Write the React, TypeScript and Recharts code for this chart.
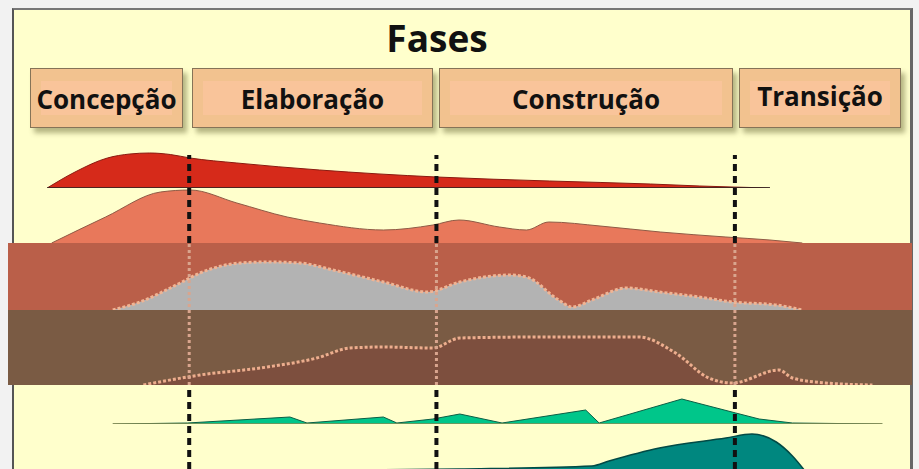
import React from 'react';
import { AreaChart, Area, XAxis, YAxis, LineChart, Line, ReferenceLine } from 'recharts';

// --- DATA ---
// x = % of project timeline, y = relative effort of each discipline
const PHASES = ['Concepção', 'Elaboração', 'Construção', 'Transição'];
const PHASE_ENDS = [19.6, 47.1, 80.3];

const redX = [3.8, 6.9, 10.5, 13.0, 15.2, 17.5, 19.7, 24.9, 34.1, 47.1, 59.7, 70.9, 76.4, 84.2];
const redY = [0, 3.2, 6.0, 6.8, 7, 6.7, 6, 5, 3.6, 2.2, 1.4, 0.8, 0.4, 0];

const salmonX = [4.3, 10.3, 16.4, 19.7, 24.9, 30.5, 34.1, 41.2, 46.7, 49.6, 54.1, 57.1, 59.6, 65.3, 72.0, 79.3, 84.2, 87.8];
const salmonY = [0, 5.2, 10.2, 10.6, 8, 5.2, 4, 2.6, 3.6, 4.6, 3.2, 2.6, 4.2, 3.4, 2.2, 1.2, 0.6, 0];

const grayX = [11.1, 14.1, 18.6, 20.8, 25.3, 28.3, 31.9, 35.6, 41.2, 46.1, 49.7, 55.2, 57.1, 60.7, 62.2, 64.4, 68.2, 71.9, 76.3, 80.0, 84.9, 87.8];
const grayY = [0, 1.6, 5.4, 7.4, 9.4, 9.6, 9.4, 8, 5.6, 3.6, 5.6, 7, 6.6, 2, 0.6, 2, 4.4, 3.6, 2.6, 1.6, 1, 0];

const brownX = [14.5, 20.8, 28.3, 33.8, 37.5, 41.2, 46.7, 49.7, 58.6, 68.2, 69.6, 73.7, 77.4, 80.0, 85.2, 86.7, 90.4, 95.6];
const brownY = [0, 2, 3.6, 5.4, 7.4, 7.6, 7.4, 9.4, 9.6, 9.6, 9.6, 6.4, 1.4, 0.4, 3, 1.4, 0.4, 0];

const greenX = [11.1, 19.4, 30.8, 32.7, 41.2, 42.7, 46.7, 49.7, 54.4, 63.7, 65.2, 74.4, 80.4, 83.0, 86.7, 96.7];
const greenY = [0, 0.2, 1.4, 0.2, 1.4, 0.2, 1.0, 2, 0.2, 2.8, 0.2, 5, 2.2, 1, 0.2, 0];

const tealX = [27.5, 49.6, 64.4, 66.3, 71.9, 79.3, 82.2, 84.9, 86.7, 88.1];
const tealY = [0, 0.4, 1, 2, 4.6, 6.6, 7.4, 5.8, 3, 0];

const zip = (xs: number[], ys: number[]) => xs.map((x, i) => ({ x, y: ys[i] }));

// --- LAYOUT ---
const CHART_LEFT = 13;
const CHART_W = 899;
const ROW_H = 55;
const BOXES = [
  { left: 30, right: 183 },
  { left: 192, right: 433 },
  { left: 439, right: 733 },
  { left: 739, right: 901 },
];

const Hump = ({ data, bottom, fill, stroke, strokeWidth = 1, dash, type = 'monotone', base }: any) => (
  <div style={{ position: 'absolute', left: CHART_LEFT, top: bottom - ROW_H }}>
    <AreaChart width={CHART_W} height={ROW_H} data={data} margin={{ top: 0, right: 0, bottom: 0, left: 0 }}>
      <XAxis dataKey="x" type="number" domain={[0, 100]} hide />
      <YAxis type="number" domain={[0, 11]} hide allowDataOverflow />
      {base && (
        <ReferenceLine
          segment={[{ x: data[0].x, y: 0 }, { x: data[data.length - 1].x, y: 0 }]}
          stroke={base}
          strokeWidth={1.5}
        />
      )}
      <Area
        type={type}
        dataKey="y"
        fill={fill}
        fillOpacity={1}
        stroke={stroke}
        strokeWidth={strokeWidth}
        strokeDasharray={dash}
        dot={false}
        activeDot={false}
        isAnimationActive={false}
      />
    </AreaChart>
  </div>
);

// dashed phase boundaries, drawn over the humps
const PhaseLines = ({ top, height, color, width = 4, dash = '7 5' }: any) => (
  <div style={{ position: 'absolute', left: CHART_LEFT, top }}>
    <LineChart width={CHART_W} height={height} data={PHASE_ENDS.map(x => ({ x, y: 0 }))} margin={{ top: 0, right: 0, bottom: 0, left: 0 }}>
      <XAxis dataKey="x" type="number" domain={[0, 100]} hide />
      <YAxis type="number" domain={[0, 1]} hide />
      <Line dataKey="y" stroke="none" dot={false} activeDot={false} isAnimationActive={false} />
      {PHASE_ENDS.map(b => (
        <ReferenceLine key={b} x={b} stroke={color} strokeWidth={width} strokeDasharray={dash} />
      ))}
    </LineChart>
  </div>
);

export default function App() {
  return (
    <div
      style={{
        position: 'absolute', left: 0, top: 0, width: 919, height: 469, overflow: 'hidden',
        background: '#F2F2F2', fontFamily: '"Open Sans", sans-serif',
      }}
    >
      {/* panel */}
      <div
        style={{
          position: 'absolute', left: 12, top: 8, width: 901, height: 480, boxSizing: 'border-box',
          background: '#FFFFCC', borderLeft: '2px solid #555', borderTop: '2px solid #777', borderRight: '3px solid #666',
        }}
      />
      <div
        style={{
          position: 'absolute', left: 337, top: 12, width: 200, textAlign: 'center',
          fontSize: 37, fontWeight: 700, color: '#111',
        }}
      >
        Fases
      </div>

      {PHASES.map((name, i) => (
        <div
          key={name}
          style={{
            position: 'absolute', left: BOXES[i].left, top: 68, width: BOXES[i].right - BOXES[i].left, height: 60,
            boxSizing: 'border-box', background: '#F2C28F', border: '1.5px solid #857357',
            boxShadow: '4px 5px 5px rgba(90, 90, 40, 0.45)',
          }}
        >
          <div style={{ position: 'absolute', left: 10, right: 10, top: 12, bottom: 12, background: '#F9C49A' }} />
          <div
            style={{
              position: 'absolute', inset: 0, display: 'flex', alignItems: 'center', justifyContent: 'center',
              fontSize: 26, fontWeight: 700, color: '#111', paddingTop: i === 3 ? 0 : 2,
              marginTop: i === 3 ? -4 : 0,
            }}
          >
            {name}
          </div>
        </div>
      ))}

      {/* bands */}
      <div style={{ position: 'absolute', left: 8, top: 243, width: 904, height: 67, background: '#BA5F49' }} />
      <div style={{ position: 'absolute', left: 8, top: 310, width: 904, height: 75, background: '#7A5B44' }} />

      <Hump data={zip(redX, redY)} bottom={188} fill="#D62A1A" stroke="#8A1A10" base="#222" />
      <Hump data={zip(salmonX, salmonY)} bottom={243} fill="#E8785B" stroke="#8F5A45" />
      <Hump data={zip(grayX, grayY)} bottom={310} fill="#B3B3B3" stroke="#F0B494" strokeWidth={3} dash="3 2" />
      <Hump data={zip(brownX, brownY)} bottom={385} fill="#7D4F3E" stroke="#EDAE8E" strokeWidth={3} dash="3 2" />
      <Hump data={zip(greenX, greenY)} bottom={424} fill="#00C68A" stroke="#0B5E45" type="linear" base="#8C8A50" />
      <Hump data={zip(tealX, tealY)} bottom={471} fill="#00877F" stroke="#024A45" strokeWidth={1.5} />

      <PhaseLines top={155} height={88} color="#111" />
      <PhaseLines top={243} height={142} color="#D9A58E" width={3} dash="3 3" />
      <PhaseLines top={385} height={84} color="#111" />
    </div>
  );
}
